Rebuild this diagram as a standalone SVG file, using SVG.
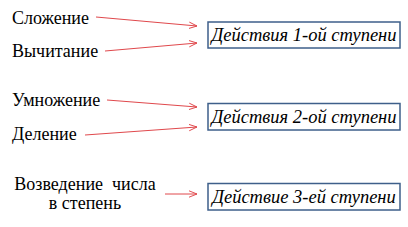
<svg xmlns="http://www.w3.org/2000/svg" width="408" height="227" viewBox="0 0 408 227">
<style>
.l{font-family:'Liberation Serif','DejaVu Serif',serif;font-size:18px;fill:#000}
.b{font-family:'Liberation Serif','DejaVu Serif',serif;font-size:18.5px;font-style:italic;fill:#000;text-anchor:middle}
.box{fill:#fff;stroke:#3E5F8A;stroke-width:1.5}
.c{stroke:#E0484C;stroke-width:1;fill:none;marker-end:url(#ah)}
</style>
<defs>
<marker id="ah" viewBox="0 0 10 10" refX="10" refY="5" markerWidth="8" markerHeight="8" markerUnits="userSpaceOnUse" orient="auto">
<path d="M0,1 L10,5 L0,9" fill="none" stroke="#E0484C" stroke-width="1.2"/>
</marker>
</defs>
<rect width="408" height="227" fill="#fff"/>
<g id="n-slozhenie"><text class="l" x="12" y="24">Сложение</text></g>
<g id="n-vychitanie"><text class="l" x="12" y="57">Вычитание</text></g>
<g id="n-umnozhenie"><text class="l" x="12" y="106">Умножение</text></g>
<g id="n-delenie"><text class="l" x="12" y="140">Деление</text></g>
<g id="n-vozvedenie"><text class="l" x="85" y="190" text-anchor="middle" xml:space="preserve">Возведение  числа</text><text class="l" x="85" y="209" text-anchor="middle">в степень</text></g>
<g id="n-box1"><rect class="box" x="208" y="22" width="192" height="26"/><text class="b" x="304" y="41">Действия 1-ой ступени</text></g>
<g id="n-box2"><rect class="box" x="208" y="103.5" width="192" height="26.5"/><text class="b" x="304" y="123">Действия 2-ой ступени</text></g>
<g id="n-box3"><rect class="box" x="208" y="183.5" width="192" height="26.5"/><text class="b" x="304" y="203">Действие 3-ей ступени</text></g>
<g id="connectors">
<line class="c" x1="96" y1="17" x2="197" y2="26"/>
<line class="c" x1="105" y1="51" x2="197" y2="43"/>
<line class="c" x1="107" y1="100" x2="197" y2="107"/>
<line class="c" x1="85" y1="135" x2="197" y2="127"/>
<line class="c" x1="165" y1="194" x2="197" y2="194"/>
</g>
</svg>
